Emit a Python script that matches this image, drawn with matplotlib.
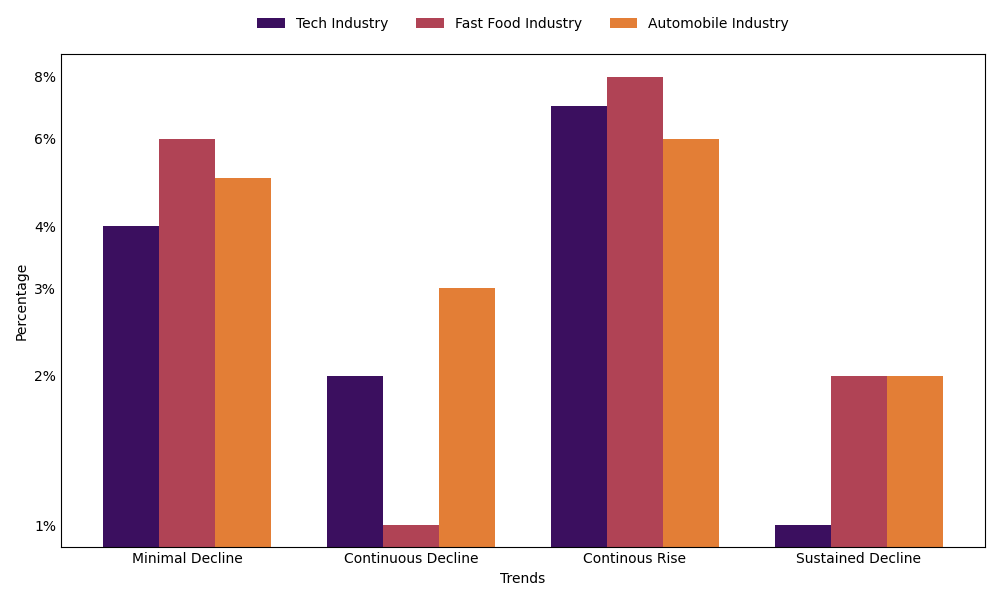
import numpy as np
import matplotlib
matplotlib.use("Agg")
import matplotlib.pyplot as plt
from matplotlib.ticker import FixedLocator, FixedFormatter, NullLocator

# Datos
trends = ["Minimal Decline", "Continuous Decline", "Continous Rise", "Sustained Decline"]
tech = [4, 2, 7, 1]
fast_food = [6, 1, 8, 2]
automobile = [5, 3, 6, 2]
tick_values = [1, 2, 3, 4, 6, 8]
tick_labels = ["1%", "2%", "3%", "4%", "6%", "8%"]

colors = ["#3b0f5f", "#b04355", "#e37e36"]

fig, ax = plt.subplots(figsize=(10, 6), dpi=100)
x = np.arange(len(trends))
w = 0.25

ax.bar(x - w, tech, w, color=colors[0], label="Tech Industry")
ax.bar(x, fast_food, w, color=colors[1], label="Fast Food Industry")
ax.bar(x + w, automobile, w, color=colors[2], label="Automobile Industry")

ax.set_yscale("log")
ax.set_ylim(0.903, 8.9)
ax.set_xlim(-0.5625, 3.5625)
ax.yaxis.set_major_locator(FixedLocator(tick_values))
ax.yaxis.set_major_formatter(FixedFormatter(tick_labels))
ax.yaxis.set_minor_locator(NullLocator())
ax.tick_params(axis="both", length=0)

ax.set_xticks(x)
ax.set_xticklabels(trends)
ax.set_xlabel("Trends")
ax.set_ylabel("Percentage")

ax.legend(loc="upper center", bbox_to_anchor=(0.5, 1.1), ncol=3, frameon=False)

fig.subplots_adjust(left=0.061, right=0.985, top=0.91, bottom=0.088)
fig.savefig("out.png")
